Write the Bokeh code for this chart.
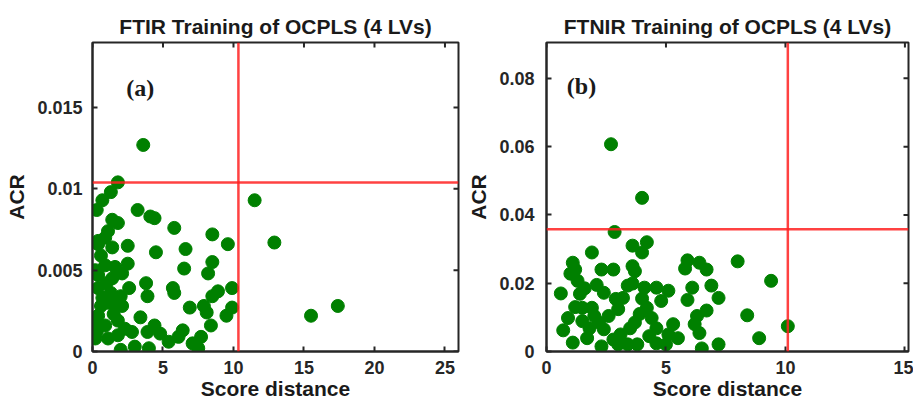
import math
from bokeh.plotting import figure
from bokeh.models import Span, Label, FixedTicker, CustomJSTickFormatter, Range1d
from bokeh.layouts import row
from bokeh.embed import file_html
from bokeh.resources import INLINE

# ---------------- data ----------------
title_a = "FTIR Training of OCPLS (4 LVs)"
title_b = "FTNIR Training of OCPLS (4 LVs)"
x_label = "Score distance"
y_label = "ACR"

xticks_a = [0, 5, 10, 15, 20, 25]
yticks_a = [0, 0.005, 0.01, 0.015]
xticks_b = [0, 5, 10, 15]
yticks_b = [0, 0.02, 0.04, 0.06, 0.08]

sd_limit_a = 10.35
acr_limit_a = 0.01039
sd_limit_b = 10.1
acr_limit_b = 0.0358

sd_a = [3.6, 1.8, 1.3, 0.7, 0.3, 3.2, 4.1, 4.4, 1.4, 1.8, 1.1, 0.9, 0.4, 5.8, 8.5, 9.6,
        11.5, 12.9, 2.5, 0.4, 1.4, 0.6, 4.5, 6.6, 0.9, 2.5, 6.5, 8.5, 8.2, 0.4, 1.4, 2.1,
        0.4, 1.3, 2.0, 2.6, 3.8, 3.9, 5.7, 5.8, 9.9, 8.9, 8.5, 0.6, 1.1, 2.1, 6.9, 7.9,
        8.1, 9.9, 9.5, 8.4, 0.4, 1.5, 3.4, 0.1, 0.9, 1.8, 2.3, 4.4, 3.9, 4.8, 5.4, 6.4,
        6.1, 7.1, 7.7, 7.5, 4.0, 3.0, 2.0, 0.2, 1.1, 1.8, 2.8, 15.5, 17.4, 0.2, 1.0, 0.7,
        1.6, 0.3, 1.5]
acr_a = [0.0127, 0.0104, 0.0098, 0.0093, 0.0087, 0.0087, 0.0083, 0.0082, 0.0081, 0.0079,
         0.0074, 0.0070, 0.0068, 0.0076, 0.0072, 0.0066, 0.0093, 0.0067, 0.0065, 0.0066,
         0.0064, 0.0059, 0.0061, 0.0063, 0.0053, 0.0054, 0.0051, 0.0055, 0.0048, 0.0047,
         0.0045, 0.0048, 0.0039, 0.0036, 0.0034, 0.0039, 0.0042, 0.0034, 0.0039, 0.0036,
         0.0039, 0.0037, 0.0034, 0.0028, 0.0030, 0.0028, 0.0027, 0.0028, 0.0024, 0.0027,
         0.0022, 0.0016, 0.0022, 0.0023, 0.0021, 0.0016, 0.0016, 0.0019, 0.0014, 0.0016,
         0.0012, 0.0011, 0.0006, 0.0013, 0.0009, 0.0005, 0.0009, 0.0002, 0.0002, 0.0003,
         0.0001, 0.0008, 0.0008, 0.0010, 0.0012, 0.0022, 0.0028, 0.0050, 0.0042, 0.0033,
         0.0052, 0.0012, 0.0030]

sd_b = [2.7, 4.0, 2.85, 3.6, 4.2, 4.0, 1.9, 1.1, 1.2, 2.3, 2.8, 3.6, 3.7, 5.9, 6.4, 6.7,
        5.8, 8.0, 9.4, 10.1, 8.4, 8.9, 7.2, 6.5, 7.2, 6.9, 6.7, 6.3, 6.1, 5.9, 6.4, 6.2,
        0.6, 0.9, 0.7, 1.1, 1.0, 1.3, 1.4, 1.5, 1.5, 1.8, 1.7, 2.3, 2.4, 2.0, 2.4, 2.6,
        2.9, 3.0, 3.1, 3.0, 3.4, 3.6, 4.1, 3.5, 3.4, 3.8, 3.9, 4.2, 4.6, 5.1, 4.8, 4.4,
        4.6, 4.6, 5.0, 5.3, 5.5, 5.1, 3.2, 1.9, 2.2, 1.2, 4.0, 4.3, 2.8, 3.7, 1.6, 2.1]
acr_b = [0.0607, 0.045, 0.035, 0.031, 0.032, 0.029, 0.029, 0.026, 0.024, 0.024, 0.024,
         0.025, 0.0235, 0.0267, 0.026, 0.024, 0.0243, 0.0264, 0.0207, 0.0074, 0.0106,
         0.0039, 0.0021, 0.0009, 0.0157, 0.0193, 0.012, 0.0104, 0.0187, 0.0151, 0.0054,
         0.008, 0.017, 0.0098, 0.0062, 0.0026, 0.0228, 0.0207, 0.0169, 0.0128, 0.0089,
         0.0068, 0.0039, 0.0015, 0.0172, 0.0104, 0.0065, 0.0104, 0.0154, 0.0124, 0.005,
         0.0021, 0.0193, 0.0199, 0.0187, 0.0068, 0.0021, 0.0021, 0.011, 0.0128, 0.0187,
         0.0178, 0.0148, 0.0098, 0.0068, 0.0024, 0.0021, 0.008, 0.0039, 0.005, 0.0157,
         0.0128, 0.0085, 0.013, 0.0155, 0.0045, 0.0035, 0.0085, 0.0185, 0.0195]

# ---------------- styling ----------------
FONT = "Liberation Sans"
AX = "#262626"
GREEN = "#008000"
RED = "#ff2020"


def style_axis(ax, ticks, label, standoff, label_standoff):
    ax.ticker = FixedTicker(ticks=ticks)
    ax.formatter = CustomJSTickFormatter(code="return String(tick);")
    ax.major_tick_in = 5
    ax.major_tick_out = 0
    ax.minor_tick_in = 0
    ax.minor_tick_out = 0
    ax.major_tick_line_width = 2
    ax.major_tick_line_color = AX
    ax.axis_line_width = 2
    ax.axis_line_color = AX
    ax.major_label_text_font = FONT
    ax.major_label_text_font_style = "bold"
    ax.major_label_text_color = AX
    ax.major_label_text_font_size = "18px"
    ax.major_label_standoff = standoff
    ax.axis_label = label
    ax.axis_label_text_font = FONT
    ax.axis_label_text_font_style = "bold"
    ax.axis_label_text_font_size = "21px"
    ax.axis_label_text_color = "#1a1a1a"
    ax.axis_label_standoff = label_standoff


def make_panel(title, xs, ys, xmax, ymax, xt, yt, sd_lim, acr_lim, tag, tag_x, tag_y,
               w, left, right, ystandoff):
    p = figure(width=w, height=405, x_range=Range1d(0, xmax), y_range=Range1d(0, ymax),
               output_backend="svg", toolbar_location=None, title=title,
               min_border_left=left, min_border_right=right, min_border_top=42,
               min_border_bottom=54)
    p.grid.visible = False
    p.outline_line_color = AX
    p.outline_line_width = 2
    p.title.text_font = FONT
    p.title.text_font_style = "bold"
    p.title.text_font_size = "21px"
    p.title.text_color = "#1a1a1a"
    p.title.align = "center"
    p.title.standoff = 9

    style_axis(p.xaxis[0], xt, x_label, 9, 0)
    style_axis(p.yaxis[0], yt, y_label, ystandoff, 6)

    # inward ticks on the top and right sides of the box (MATLAB style)
    p.ray(x=xt, y=[ymax] * len(xt), length=5, angle=-math.pi / 2, length_units="screen",
          line_width=2, line_color=AX)
    p.ray(x=[xmax] * len(yt), y=yt, length=5, angle=math.pi, length_units="screen",
          line_width=2, line_color=AX)

    p.add_layout(Span(location=sd_lim, dimension="height", line_color=RED, line_width=2.5, line_alpha=0.85))
    p.add_layout(Span(location=acr_lim, dimension="width", line_color=RED, line_width=2.5, line_alpha=0.85))

    p.scatter(xs, ys, size=13, fill_color=GREEN, line_color=GREEN)

    p.add_layout(Label(x=tag_x, y=tag_y, text=tag, text_font="Liberation Serif",
                       text_font_style="bold", text_font_size="24px",
                       text_baseline="middle", text_color="#1a1a1a"))
    return p


pa = make_panel(title_a, sd_a, acr_a, 25.96, 0.019, xticks_a, yticks_a,
                sd_limit_a, acr_limit_a, "(a)", 2.4, 0.0162, 460, 92, 2, 10)
pb = make_panel(title_b, sd_b, acr_b, 15.15, 0.0905, xticks_b, yticks_b,
                sd_limit_b, acr_limit_b, "(b)", 0.85, 0.0779, 453, 86, 5, 12)

layout = row(pa, pb)
open("out.html", "w").write(file_html(layout, INLINE))
